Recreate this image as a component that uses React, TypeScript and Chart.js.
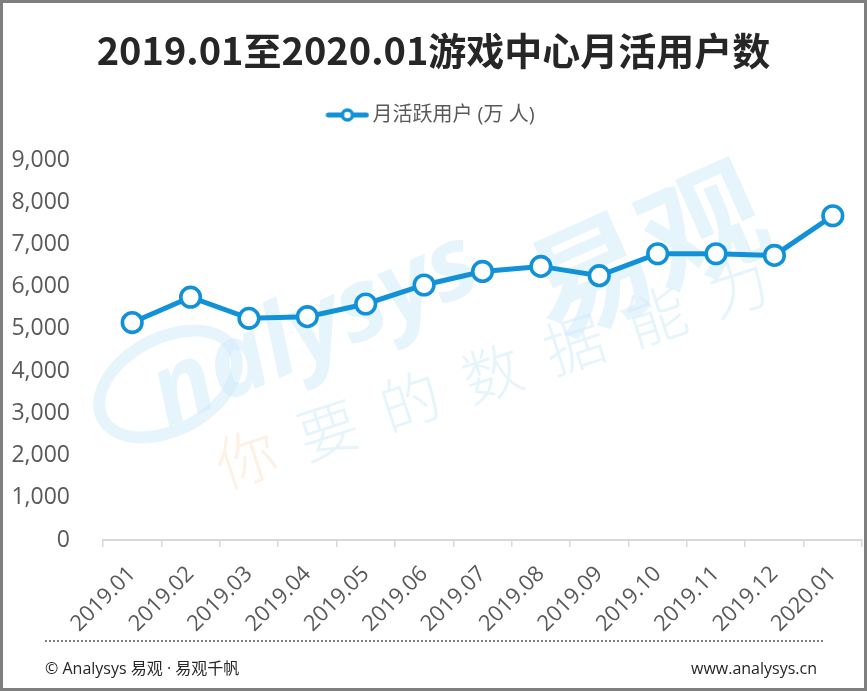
import React, { useEffect, useRef } from 'react';
import { Chart, registerables } from 'chart.js';

Chart.register(...registerables);

const chartTitle = '2019.01至2020.01游戏中心月活用户数';
const seriesName = '月活跃用户 (万 人)';
const categories = [
  '2019.01', '2019.02', '2019.03', '2019.04', '2019.05', '2019.06', '2019.07',
  '2019.08', '2019.09', '2019.10', '2019.11', '2019.12', '2020.01',
];
const monthlyActiveUsers = [5150, 5750, 5250, 5290, 5590, 6040, 6360, 6480, 6260, 6780, 6780, 6740, 7680];
const yMin = 0;
const yMax = 9000;
const yStep = 1000;
const footerLeft = '© Analysys 易观 · 易观千帆';
const footerRight = 'www.analysys.cn';

const LINE_COLOR = '#1192d8';
const TEXT_COLOR = '#595959';
const LATIN = '"Open Sans", "Noto Sans CJK SC", sans-serif';
const CJK = '"Noto Sans CJK SC", "Open Sans", sans-serif';

function makeLegendMarker(): HTMLCanvasElement {
  const c = document.createElement('canvas');
  c.width = 44;
  c.height = 16;
  const ctx = c.getContext('2d')!;
  ctx.strokeStyle = LINE_COLOR;
  ctx.lineWidth = 5;
  ctx.lineCap = 'round';
  ctx.beginPath();
  ctx.moveTo(3, 8);
  ctx.lineTo(41, 8);
  ctx.stroke();
  ctx.beginPath();
  ctx.arc(22, 8, 5, 0, Math.PI * 2);
  ctx.fillStyle = '#ffffff';
  ctx.fill();
  ctx.lineWidth = 3.5;
  ctx.stroke();
  return c;
}

export default function App() {
  const canvasRef = useRef<HTMLCanvasElement | null>(null);

  useEffect(() => {
    if (!canvasRef.current) return;
    const marker = makeLegendMarker();
    const chart = new Chart(canvasRef.current, {
      type: 'line',
      data: {
        labels: categories,
        datasets: [
          {
            label: seriesName,
            data: monthlyActiveUsers,
            borderColor: LINE_COLOR,
            borderWidth: 5,
            pointRadius: 9.8,
            pointHoverRadius: 9.8,
            pointBorderWidth: 3.6,
            pointBackgroundColor: '#ffffff',
            pointBorderColor: LINE_COLOR,
            tension: 0,
            clip: false as any,
          },
        ],
      },
      options: {
        responsive: false,
        animation: false,
        layout: { autoPadding: false, padding: { left: 0, right: 0, top: 0, bottom: 0 } },
        plugins: {
          title: {
            display: true,
            text: chartTitle,
            color: '#262626',
            font: { family: CJK, size: 38, weight: 'bold', lineHeight: 1.2 },
            padding: { top: 28, bottom: 0 },
          },
          legend: {
            display: true,
            position: 'top',
            labels: {
              usePointStyle: true,
              pointStyleWidth: 30,
              padding: 31.4,
              color: TEXT_COLOR,
              font: { family: LATIN, size: 20 },
              generateLabels: (c: any) => {
                const items = (Chart.defaults.plugins.legend.labels as any).generateLabels(c);
                items.forEach((it: any) => {
                  it.pointStyle = marker;
                });
                return items;
              },
            },
          },
          subtitle: {
            display: true,
            text: '',
            weight: 500,
            padding: { top: 24, bottom: 0 },
            font: { size: 1, lineHeight: 1 },
          } as any,
          tooltip: { enabled: false },
        },
        scales: {
          x: {
            offset: true,
            grid: {
              display: true,
              offset: true,
              drawOnChartArea: false,
              drawTicks: true,
              tickLength: 7,
              color: '#d9d9d9',
              lineWidth: 1.5,
            },
            border: { display: true, color: '#d9d9d9', width: 2 },
            ticks: {
              autoSkip: false,
              minRotation: 45,
              maxRotation: 45,
              padding: 14,
              color: TEXT_COLOR,
              font: { family: LATIN, size: 22 },
            },
            afterFit: (scale: any) => {
              scale.height = 151;
              scale.paddingRight = 5;
            },
          },
          y: {
            min: yMin,
            max: yMax,
            grid: { display: false, drawTicks: false },
            border: { display: false },
            ticks: {
              stepSize: yStep,
              padding: 33,
              color: TEXT_COLOR,
              font: { family: LATIN, size: 23 },
              callback: (v: any) => Number(v).toLocaleString('en-US'),
            },
            afterFit: (scale: any) => {
              scale.width = 103;
            },
          },
        },
      },
    });
    return () => chart.destroy();
  }, []);

  const wmBlue = 'rgba(205, 233, 250, 0.5)';
  const wmOrange = 'rgba(253, 225, 200, 0.5)';
  const slogan = ['你', '要', '的', '数', '据', '能', '力'];

  return (
    <div
      style={{
        position: 'fixed',
        left: 0,
        top: 0,
        width: 867,
        height: 691,
        background: '#ffffff',
        overflow: 'hidden',
      }}
    >
      {/* watermark */}
      <div
        style={{
          position: 'absolute',
          left: 88,
          top: 332,
          width: 160,
          height: 104,
          border: `12px solid ${wmBlue}`,
          borderRadius: '50%',
          transform: 'rotate(-28deg)',
          boxSizing: 'border-box',
        }}
      />
      <div
        style={{
          position: 'absolute',
          left: 152,
          top: 342,
          fontFamily: LATIN,
          fontWeight: 'bold',
          fontStyle: 'italic',
          fontSize: 100,
          color: wmBlue,
          transform: 'rotate(-24deg)',
          transformOrigin: 'left center',
          whiteSpace: 'nowrap',
          lineHeight: 1,
        }}
      >
        nalysys
      </div>
      <div
        style={{
          position: 'absolute',
          left: 532,
          top: 232,
          fontFamily: CJK,
          fontWeight: 'bold',
          fontSize: 122,
          color: wmBlue,
          transform: 'rotate(-24deg)',
          transformOrigin: 'left center',
          whiteSpace: 'nowrap',
          lineHeight: 1,
        }}
      >
        易观
      </div>
      {slogan.map((ch, i) => (
        <div
          key={ch}
          style={{
            position: 'absolute',
            left: 215 + i * 82,
            top: 425 - i * 28.5,
            fontFamily: CJK,
            fontWeight: 300,
            fontSize: 60,
            lineHeight: 1,
            color: i === 0 ? wmOrange : wmBlue,
            transform: 'rotate(-18deg)',
          }}
        >
          {ch}
        </div>
      ))}

      <canvas
        ref={canvasRef}
        width={867}
        height={691}
        style={{ position: 'absolute', left: 0, top: 0, width: 867, height: 691 }}
      />

      {/* footer */}
      <div
        style={{
          position: 'absolute',
          left: 45,
          top: 640,
          width: 778,
          height: 0,
          borderTop: '2px dotted #7f7f7f',
        }}
      />
      <div
        style={{
          position: 'absolute',
          left: 45,
          top: 656,
          fontFamily: LATIN,
          fontSize: 16,
          color: '#262626',
          whiteSpace: 'nowrap',
          lineHeight: '24px',
        }}
      >
        {footerLeft}
      </div>
      <div
        style={{
          position: 'absolute',
          right: 867 - 817,
          top: 656,
          fontFamily: LATIN,
          fontSize: 16,
          color: '#262626',
          whiteSpace: 'nowrap',
          lineHeight: '24px',
        }}
      >
        {footerRight}
      </div>
      <div
        style={{
          position: 'absolute',
          left: 0,
          top: 0,
          width: 867,
          height: 691,
          border: '3px solid #7f7f7f',
          boxSizing: 'border-box',
          pointerEvents: 'none',
        }}
      />
    </div>
  );
}
